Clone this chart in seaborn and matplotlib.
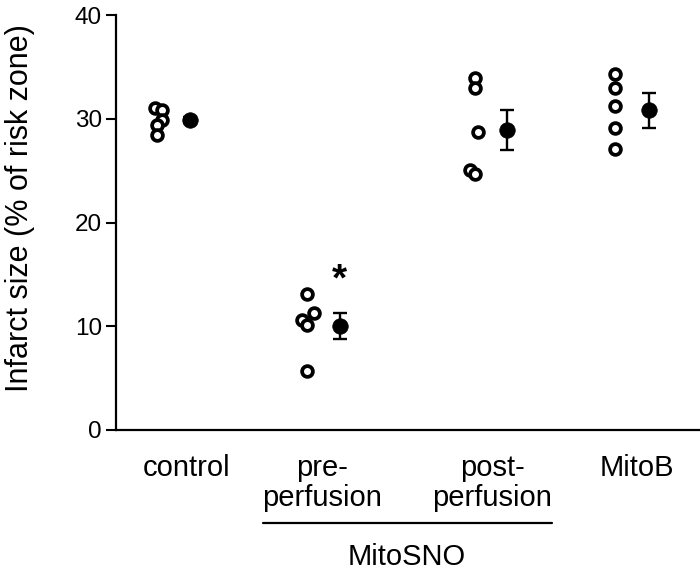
import numpy as np
import pandas as pd
import matplotlib
matplotlib.use("Agg")
import matplotlib.pyplot as plt
import seaborn as sns

# ---- data ----
categories = ["control", "pre-perfusion", "post-perfusion", "MitoB"]
tick_labels = ["control", "pre-\nperfusion", "post-\nperfusion", "MitoB"]
control_vals = [31.0, 30.8, 29.9, 29.4, 28.4]
pre_vals = [13.1, 11.3, 10.6, 10.1, 5.7]
post_vals = [33.9, 33.0, 28.7, 25.1, 24.7]
mitob_vals = [34.3, 33.0, 31.2, 29.1, 27.1]
means = [29.9, 10.0, 28.9, 30.8]
sems = [0.3, 1.25, 1.9, 1.7]
group_label = "MitoSNO"
y_label = "Infarct size (% of risk zone)"

# ---- layout (not data) ----
cat_pos = [0.0, 0.98, 2.07, 3.0]
point_offsets = [
    [-0.23, -0.18, -0.18, -0.215, -0.215],
    [-0.215, -0.17, -0.25, -0.215, -0.215],
    [-0.21, -0.21, -0.19, -0.24, -0.21],
    [-0.22, -0.22, -0.22, -0.22, -0.22],
]
label_pos = [-0.02, 0.863, 1.974, 2.92]

sns.set_style("ticks")
plt.rcParams["font.family"] = ["Liberation Sans", "DejaVu Sans"]
plt.rcParams["text.color"] = "black"
plt.rcParams["axes.labelcolor"] = "black"
plt.rcParams["xtick.color"] = "black"
plt.rcParams["ytick.color"] = "black"
plt.rcParams["axes.edgecolor"] = "black"

all_vals = [control_vals, pre_vals, post_vals, mitob_vals]
rows = []
for i, (cat, vals) in enumerate(zip(categories, all_vals)):
    for v, off in zip(vals, point_offsets[i]):
        rows.append({"category": cat, "x": cat_pos[i] + off, "value": v})
df = pd.DataFrame(rows)
mdf = pd.DataFrame({"category": categories, "x": cat_pos,
                    "mean": means, "sem": sems})

fig = plt.figure(figsize=(7, 5.75), dpi=100)
ax = fig.add_axes([116 / 700, 145 / 575, 584 / 700, 415 / 575])

sns.scatterplot(data=df, x="x", y="value", ax=ax, marker="o", s=60,
                color="white", edgecolor="black", linewidth=2.7,
                legend=False, zorder=3, clip_on=False)
ax.errorbar(mdf["x"], mdf["mean"], yerr=mdf["sem"], fmt="none",
            ecolor="black", elinewidth=1.7, capsize=5, capthick=1.7, zorder=4)
sns.scatterplot(data=mdf, x="x", y="mean", ax=ax, marker="o", s=125,
                color="black", edgecolor="black", linewidth=0.5,
                legend=False, zorder=5)

# significance star above pre-perfusion mean
ax.text(cat_pos[1], means[1] + 4.4, "*", ha="center", va="center",
        fontsize=28, fontweight="bold")

ax.set_xlim(-0.4837, 3.333)
ax.set_ylim(0, 40)
ax.set_yticks([0, 10, 20, 30, 40])
ax.set_xticks(label_pos)
ax.set_xticklabels(tick_labels, fontsize=21, linespacing=1.1)
ax.tick_params(axis="x", length=0, pad=17)
ax.tick_params(axis="y", direction="out", length=7, width=1.5, labelsize=17.5, pad=3)
ax.set_xlabel("")
ax.set_ylabel("")
sns.despine(ax=ax, top=True, right=True)
for s in ["left", "bottom"]:
    ax.spines[s].set_linewidth(1.6)

fig.text(20 / 700, 1 - 208 / 575, y_label, rotation=90, ha="center", va="center",
         fontsize=22)

# group bracket line + label
fig.add_artist(plt.Line2D([263 / 700, 552 / 700], [1 - 523 / 575, 1 - 523 / 575],
                          color="black", linewidth=1.6))
fig.text(407 / 700, 1 - 557 / 575, group_label, ha="center", va="center", fontsize=21)

fig.savefig("out.png", dpi=100)
